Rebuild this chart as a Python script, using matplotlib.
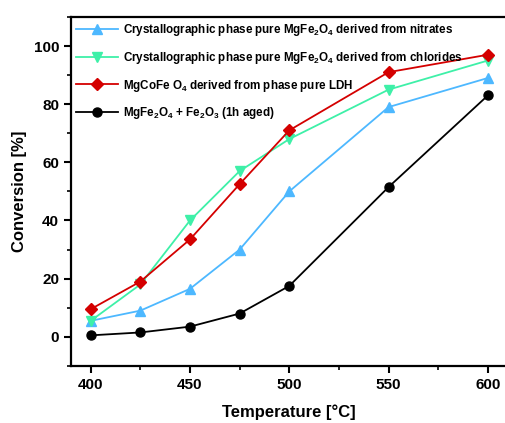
import matplotlib
matplotlib.use("Agg")
import matplotlib.pyplot as plt
from matplotlib.ticker import MultipleLocator

plt.rcParams['font.family'] = 'Liberation Sans'
plt.rcParams['font.weight'] = 'bold'
plt.rcParams['mathtext.fontset'] = 'custom'
plt.rcParams['mathtext.rm'] = 'Liberation Sans:bold'
plt.rcParams['mathtext.it'] = 'Liberation Sans:bold'
plt.rcParams['mathtext.bf'] = 'Liberation Sans:bold'
plt.rcParams['mathtext.default'] = 'rm'

temps = [400, 425, 450, 475, 500, 550, 600]
nitrates = [5.5, 9, 16.5, 30, 50, 79, 89]
chlorides = [5.5, 18, 40, 57, 68, 85, 95]
ldh = [9.5, 19, 33.5, 52.5, 71, 91, 97]
aged = [0.5, 1.5, 3.5, 8, 17.5, 51.5, 83]

labels = [
    "Crystallographic phase pure MgFe$_2$O$_4$ derived from nitrates",
    "Crystallographic phase pure MgFe$_2$O$_4$ derived from chlorides",
    "MgCoFe O$_4$ derived from phase pure LDH",
    "MgFe$_2$O$_4$ + Fe$_2$O$_3$ (1h aged)",
]
xticks = [400, 450, 500, 550, 600]
yticks = [0, 20, 40, 60, 80, 100]

fig = plt.figure(figsize=(5.06, 4.23), dpi=100)
ax = fig.add_axes([0.140, 0.135, 0.8634, 0.825])

ax.plot(temps, nitrates, color='#4db8ff', marker='^', ms=7, lw=1.3, label=labels[0])
ax.plot(temps, chlorides, color='#3ef0a8', marker='v', ms=7, lw=1.3, label=labels[1])
ax.plot(temps, ldh, color='#d40000', marker='D', ms=6, lw=1.3, label=labels[2])
ax.plot(temps, aged, color='black', marker='o', ms=6.5, lw=1.3, label=labels[3])

ax.set_xlim(390, 610)
ax.set_ylim(-10, 110)
ax.set_xticks(xticks)
ax.set_yticks(yticks)
ax.xaxis.set_minor_locator(MultipleLocator(25))
ax.yaxis.set_minor_locator(MultipleLocator(10))
ax.tick_params(which='major', direction='out', length=5, width=1.5, labelsize=11)
ax.tick_params(which='minor', direction='out', length=3, width=1.2)
ax.tick_params(top=False, right=False)
for lab in ax.get_xticklabels() + ax.get_yticklabels():
    lab.set_fontweight('bold')
for s in ['left', 'bottom', 'top']:
    ax.spines[s].set_linewidth(1.6)
ax.spines['right'].set_visible(False)

ax.set_xlabel('Temperature [°C]', fontsize=12, fontweight='bold', labelpad=9)
ax.set_ylabel('Conversion [%]', fontsize=12, fontweight='bold', labelpad=5)

leg = ax.legend(loc='upper left', frameon=False, handlelength=3.6,
                borderaxespad=0.0, borderpad=0.45, labelspacing=1.0, handletextpad=0.45,
                prop={'weight': 'bold', 'size': 8.4})

fig.savefig('out.png', dpi=100)
